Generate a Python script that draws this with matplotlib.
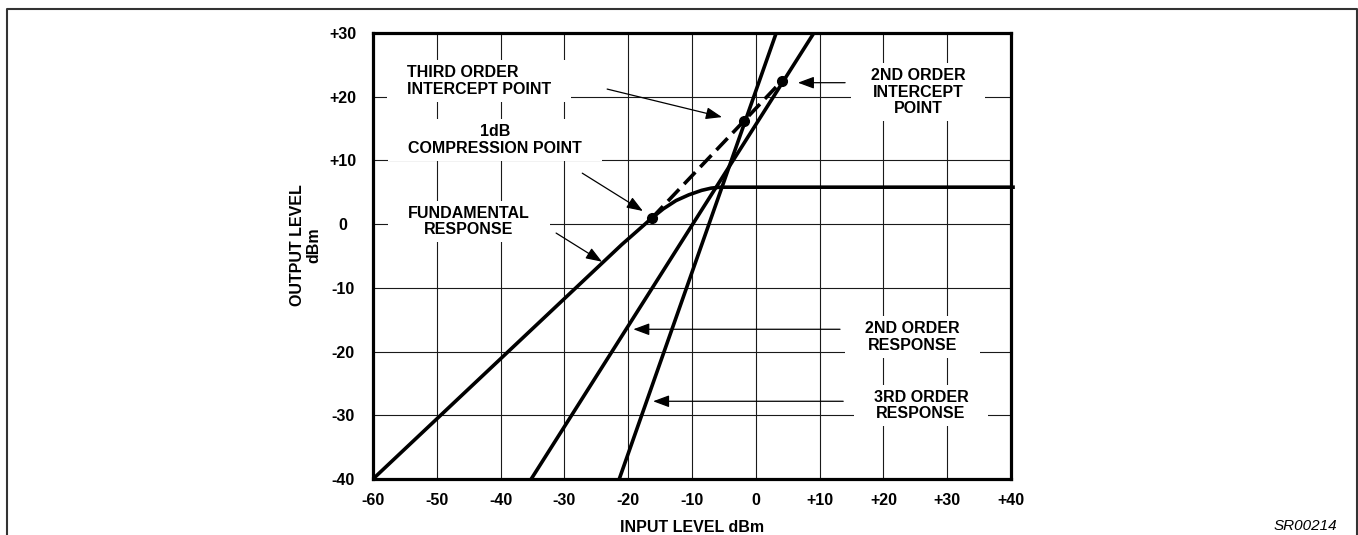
import matplotlib.pyplot as plt
from matplotlib.lines import Line2D
from matplotlib.patches import Rectangle

plt.rcParams['font.family'] = ['Liberation Sans', 'DejaVu Sans']
plt.rcParams['font.weight'] = 'bold'
plt.rcParams['axes.labelweight'] = 'bold'
plt.rcParams['font.size'] = 11.5

W, H = 1358, 535

# fundamental response: input dBm -> output dBm (compresses to ~+6 dBm)
fund_in = [-60, -21.0, -18.5, -16.3, -14.5, -12.5, -10.5, -8.5, -7.0, -5.6, 40.6]
fund_out = [-40, -3.2, -1.0, 0.95, 2.4, 3.7, 4.6, 5.3, 5.65, 5.8, 5.8]

# 2nd and 3rd order responses
second_in = [-35.2, 9.1]
second_out = [-40, 30]
third_in = [-21.4, 3.2]
third_out = [-40, 30]

# 1dB compression point, third order intercept, 2nd order intercept
point_in = [-16.3, -1.85, 4.1]
point_out = [0.95, 16.2, 22.5]

x_ticks = [-60, -50, -40, -30, -20, -10, 0, 10, 20, 30, 40]
x_labels = ['-60', '-50', '-40', '-30', '-20', '-10', '0', '+10', '+20', '+30', '+40']
y_ticks = [-40, -30, -20, -10, 0, 10, 20, 30]
y_labels = ['-40', '-30', '-20', '-10', '0', '+10', '+20', '+30']

fig = plt.figure(figsize=(W / 100, H / 100), dpi=100)
ax = fig.add_axes([373 / W, 1 - 479 / H, 638 / W, 446 / H])
ax.set_xlim(-60, 40)
ax.set_ylim(-40, 30)
ax.set_xticks(x_ticks, x_labels)
ax.set_yticks(y_ticks, y_labels)
ax.tick_params(length=0)
ax.tick_params(axis='x', pad=10.3)
ax.tick_params(axis='y', pad=21.6)
for lbl in ax.get_yticklabels():
    lbl.set_ha('center')

ax.grid(True, color='#1a1a1a', lw=0.8)
ax.set_axisbelow(True)
for s in ax.spines.values():
    s.set_linewidth(2.3)

ax.set_xlabel('INPUT LEVEL dBm', va='center', fontweight='bold')
ax.xaxis.set_label_coords(0.5, -0.108)
ax.set_ylabel('OUTPUT LEVEL\ndBm', va='center', linespacing=1.12, fontweight='bold')
ax.yaxis.set_label_coords(-0.105, 0.525)

lw = 2.6
ax.plot(fund_in, fund_out, color='black', lw=lw, solid_capstyle='butt', clip_on=False, zorder=3)
ax.plot(second_in, second_out, color='black', lw=lw, solid_capstyle='butt', zorder=3)
ax.plot(third_in, third_out, color='black', lw=lw, solid_capstyle='butt', zorder=3)
ax.plot(point_in, point_out, color='black', lw=lw, dashes=(4.5, 2), zorder=3)
ax.plot(point_in, point_out, 'o', color='black', ms=7, zorder=4)

# callout labels
labels = [
    ('THIRD ORDER\nINTERCEPT POINT', -54.7, 22.5, 'left'),
    ('1dB\nCOMPRESSION POINT', -40.9, 13.2, 'center'),
    ('FUNDAMENTAL\nRESPONSE', -45.0, 0.4, 'center'),
    ('2ND ORDER\nINTERCEPT\nPOINT', 25.4, 20.7, 'center'),
    ('2ND ORDER\nRESPONSE', 24.6, -17.7, 'center'),
    ('3RD ORDER\nRESPONSE', 25.9, -28.5, 'center'),
]
texts = []
for s, x, y, ha in labels:
    texts.append(ax.text(x, y, s, ha=ha, va='center', multialignment=ha,
                         linespacing=1.12, zorder=5))

arrows = [
    ((-23.3, 21.2), (-5.3, 16.8)),
    ((-27.2, 8.0), (-17.7, 2.06)),
    ((-31.3, -1.4), (-24.1, -5.9)),
    ((14.0, 22.2), (6.6, 22.2)),
    ((13.2, -16.5), (-19.2, -16.5)),
    ((13.7, -27.8), (-16.1, -27.8)),
]
for tail, tip in arrows:
    ax.annotate('', xy=tip, xytext=tail, zorder=5,
                arrowprops=dict(arrowstyle='-|>,head_length=0.7,head_width=0.26',
                                mutation_scale=14, lw=0.9, color='black',
                                shrinkA=0, shrinkB=0))

# white gaps in the grid behind the labels
fig.canvas.draw()
r = fig.canvas.get_renderer()
inv = ax.transData.inverted()
for t in texts:
    bb = t.get_window_extent(r)
    (x0, y0), (x1, y1) = inv.transform([(bb.x0 - 20, bb.y0 - 5), (bb.x1 + 20, bb.y1 + 5)])
    ax.add_patch(Rectangle((x0, y0), x1 - x0, y1 - y0, fc='white', ec='none', zorder=1))

# page frame, open at the bottom
fig.add_artist(Line2D([7 / W, 7 / W, 1357 / W, 1357 / W], [0, 1 - 9 / H, 1 - 9 / H, 0],
                      color='#333333', lw=1.5))
fig.text(1337 / W, 1 - 526 / H, 'SR00214', ha='right', va='center',
         style='italic', weight='normal', size=11)

fig.savefig('out.png', dpi=100)
